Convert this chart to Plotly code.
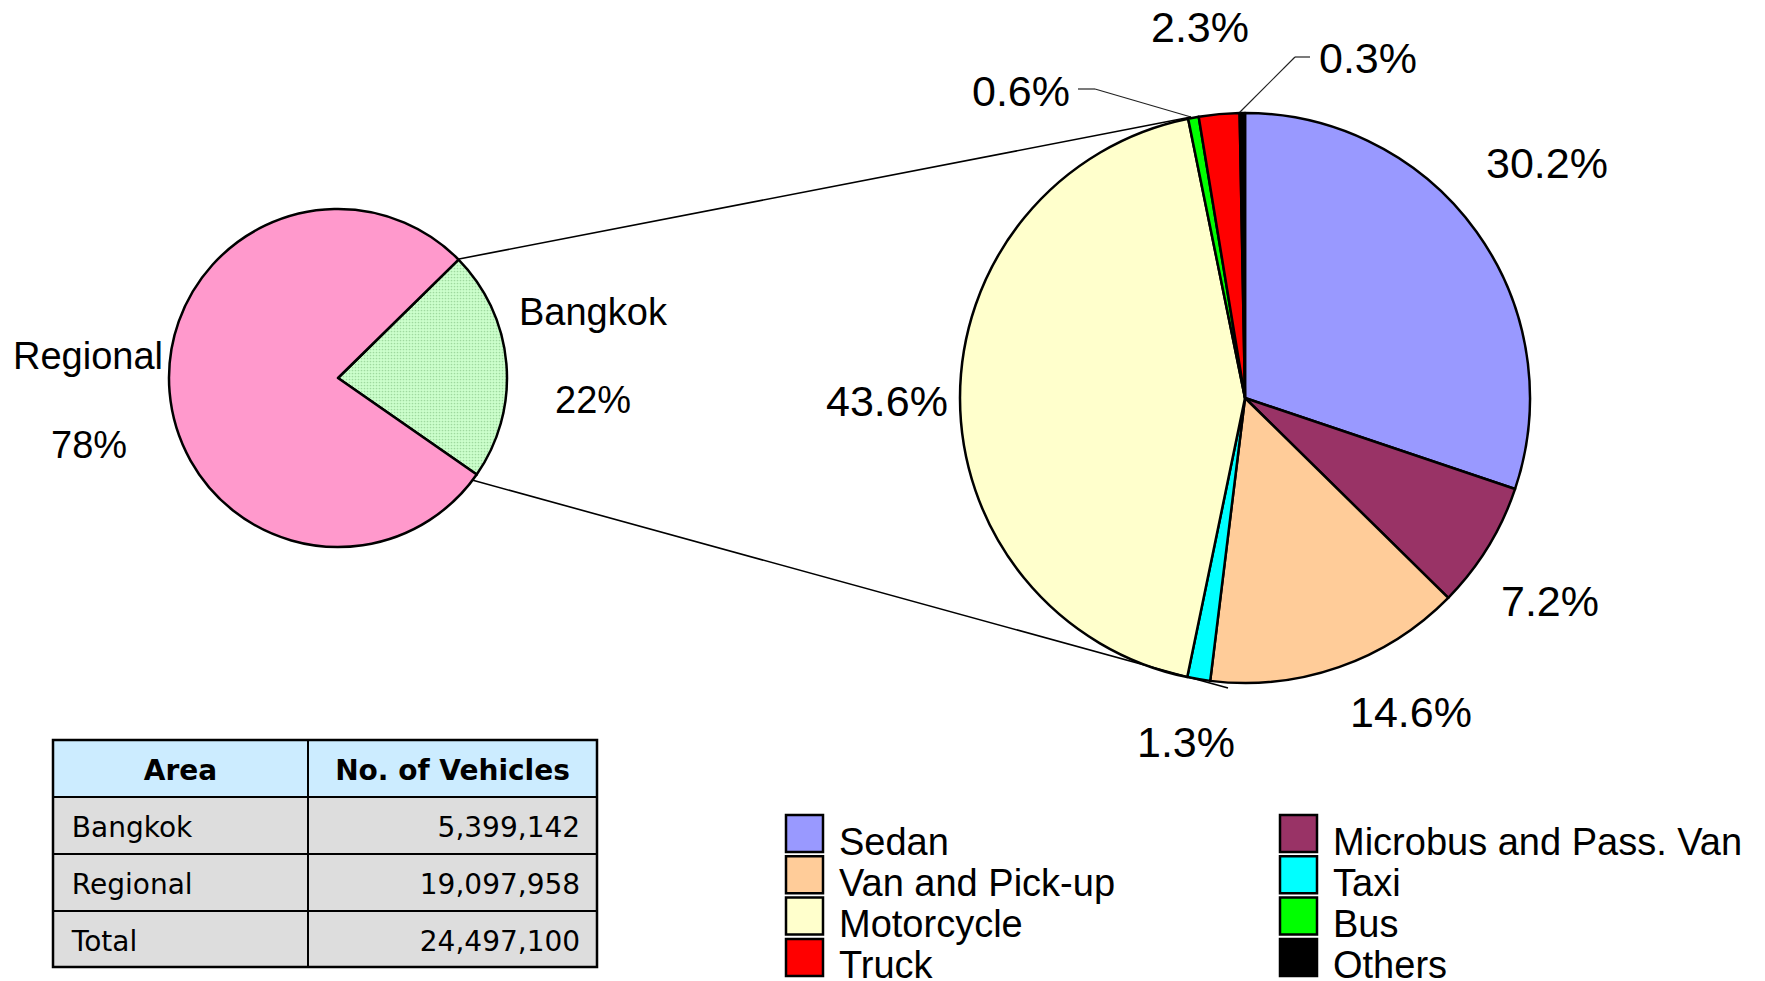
import plotly.graph_objects as go

W, H = 1765, 981
FONT = "Liberation Sans, Arial, sans-serif"
TFONT = "DejaVu Sans, Verdana, sans-serif"

# ---------------- data ----------------
area_names = ["Bangkok", "Regional"]
area_vehicles = [5399142, 19097958]
area_colors = ["#CCFFCC", "#FF99CC"]

table_rows = ["Bangkok", "Regional", "Total"]
table_values = [5399142, 19097958, 24497100]
table_header = ["Area", "No. of Vehicles"]

types = ["Sedan", "Microbus and Pass. Van", "Van and Pick-up", "Taxi",
         "Motorcycle", "Bus", "Truck", "Others"]
type_share = [30.2, 7.2, 14.6, 1.3, 43.6, 0.6, 2.3, 0.3]
type_colors = ["#9999FF", "#993366", "#FFCC99", "#00FFFF",
               "#FFFFCC", "#00FF00", "#FF0000", "#000000"]

# ---------------- layout helpers (pixel -> paper) ----------------
def px(x):
    return x / W


def py(y):
    return 1 - y / H


# label positions (pixel centres) for big-pie percentages, same order as types
type_label_pos = [(1547, 163), (1550, 601), (1411, 712), (1186, 742),
                  (887, 401), (1021, 91), (1200, 27), (1368, 58)]

fig = go.Figure()

# small pie
sc, sr = (338, 378), 169
fig.add_trace(go.Pie(
    labels=area_names, values=area_vehicles, sort=False, direction="clockwise",
    rotation=45.5, textinfo="none", hoverinfo="label+percent",
    marker=dict(colors=area_colors, line=dict(color="black", width=2.5),
                pattern=dict(shape=[".", ""], fgcolor=["#9FD99F", "#FF99CC"],
                             bgcolor=["#CCFFCC", "#FF99CC"], size=3, solidity=0.25)),
    domain=dict(x=[px(sc[0] - sr), px(sc[0] + sr)], y=[py(sc[1] + sr), py(sc[1] - sr)]),
    showlegend=False,
))

# big pie
bc, br = (1245, 398), 285
fig.add_trace(go.Pie(
    labels=types, values=type_share, sort=False, direction="clockwise",
    rotation=0, textinfo="none", hoverinfo="label+percent",
    marker=dict(colors=type_colors, line=dict(color="black", width=2.5)),
    domain=dict(x=[px(bc[0] - br), px(bc[0] + br)], y=[py(bc[1] + br), py(bc[1] - br)]),
    showlegend=False,
))

# table: a slightly larger invisible spacer lowers the text within its row;
# the trailing <br> keeps plotly from re-wrapping the markup
NB = "\u00a0"
SP = "<span style='font-size:34px'>%s</span>" % NB
def cell_left(s):
    return SP + s.replace(" ", NB) + "<br>"

def cell_right(s):
    return SP + s.replace(" ", NB) + NB + "<br>"

def cell_center(s):
    return SP + s.replace(" ", NB) + SP + "<br>"

tx0, tx1, ty0, ty1 = 53, 597, 740, 968
fig.add_trace(go.Table(
    domain=dict(x=[px(tx0), px(tx1)], y=[py(ty1), py(ty0)]),
    columnwidth=[255, 289],
    header=dict(values=[cell_center("<b>%s</b>" % h) for h in table_header],
                fill_color="#CCECFF", line=dict(color="black", width=2),
                align="center", height=57,
                font=dict(family=TFONT, size=28, color="black")),
    cells=dict(values=[[cell_left(r) for r in table_rows],
                       [cell_right("{:,}".format(v)) for v in table_values]],
               fill_color="#DDDDDD", line=dict(color="black", width=2),
               align=["left", "right"], height=57,
               font=dict(family=TFONT, size=28, color="black")),
))

annotations = []
shapes = []

# outer frame of the table
shapes.append(dict(type="rect", xref="paper", yref="paper",
                   x0=px(tx0), x1=px(tx1), y0=py(ty1 - 1), y1=py(ty0),
                   line=dict(color="black", width=2.5), fillcolor="rgba(0,0,0,0)"))

# small-pie labels
total_area = sum(area_vehicles)
small_pos = {"Bangkok": [(593, 312), (593, 400)], "Regional": [(88, 356), (89, 445)]}
for name, v in zip(area_names, area_vehicles):
    (x1, y1), (x2, y2) = small_pos[name]
    annotations.append(dict(x=px(x1), y=py(y1), text=name, showarrow=False,
                            xanchor="center", yanchor="middle",
                            font=dict(family=FONT, size=38, color="black")))
    annotations.append(dict(x=px(x2), y=py(y2), text="%d%%" % round(v / total_area * 100),
                            showarrow=False, xanchor="center", yanchor="middle",
                            font=dict(family=FONT, size=38, color="black")))

# big-pie percentage labels
for share, (x, y) in zip(type_share, type_label_pos):
    annotations.append(dict(x=px(x), y=py(y), text="%.1f%%" % share, showarrow=False,
                            xanchor="center", yanchor="middle",
                            font=dict(family=FONT, size=43, color="black")))

# leader lines for the small slices
leaders = [[(1078, 89), (1095, 89), (1191, 117)],
           [(1310, 57), (1295, 57), (1240, 112)]]
for pts in leaders:
    for (xa, ya), (xb, yb) in zip(pts[:-1], pts[1:]):
        shapes.append(dict(type="line", xref="paper", yref="paper",
                           x0=px(xa), y0=py(ya), x1=px(xb), y1=py(yb),
                           line=dict(color="#222222", width=1.2)))

# connector lines between pies
for (xa, ya), (xb, yb) in [((459, 259), (1191, 117)), ((472, 480), (1228, 688))]:
    shapes.append(dict(type="line", xref="paper", yref="paper",
                       x0=px(xa), y0=py(ya), x1=px(xb), y1=py(yb),
                       line=dict(color="black", width=1.6)))

# legend (two columns, row-major order)
col_x = [786, 1280]
row_top0, row_pitch, sw = 815, 41.3, 37
for i, (name, col) in enumerate(zip(types, type_colors)):
    c, r = i % 2, i // 2
    x0 = col_x[c]
    y0 = row_top0 + r * row_pitch
    shapes.append(dict(type="rect", xref="paper", yref="paper",
                       x0=px(x0), x1=px(x0 + sw), y0=py(y0), y1=py(y0 + sw),
                       fillcolor=col, line=dict(color="black", width=2.5)))
    annotations.append(dict(x=px(x0 + 51), y=py(y0 + sw / 2 + 8), text=name,
                            showarrow=False, xanchor="left", yanchor="middle",
                            font=dict(family=FONT, size=38, color="black")))

fig.update_layout(
    width=W, height=H, margin=dict(l=0, r=0, t=0, b=0),
    paper_bgcolor="white", plot_bgcolor="white",
    annotations=annotations, shapes=shapes,
    font=dict(family=FONT, color="black"),
)

fig.write_html("out.html", config={"displayModeBar": False},
               post_script="document.body.style.margin='0';")
